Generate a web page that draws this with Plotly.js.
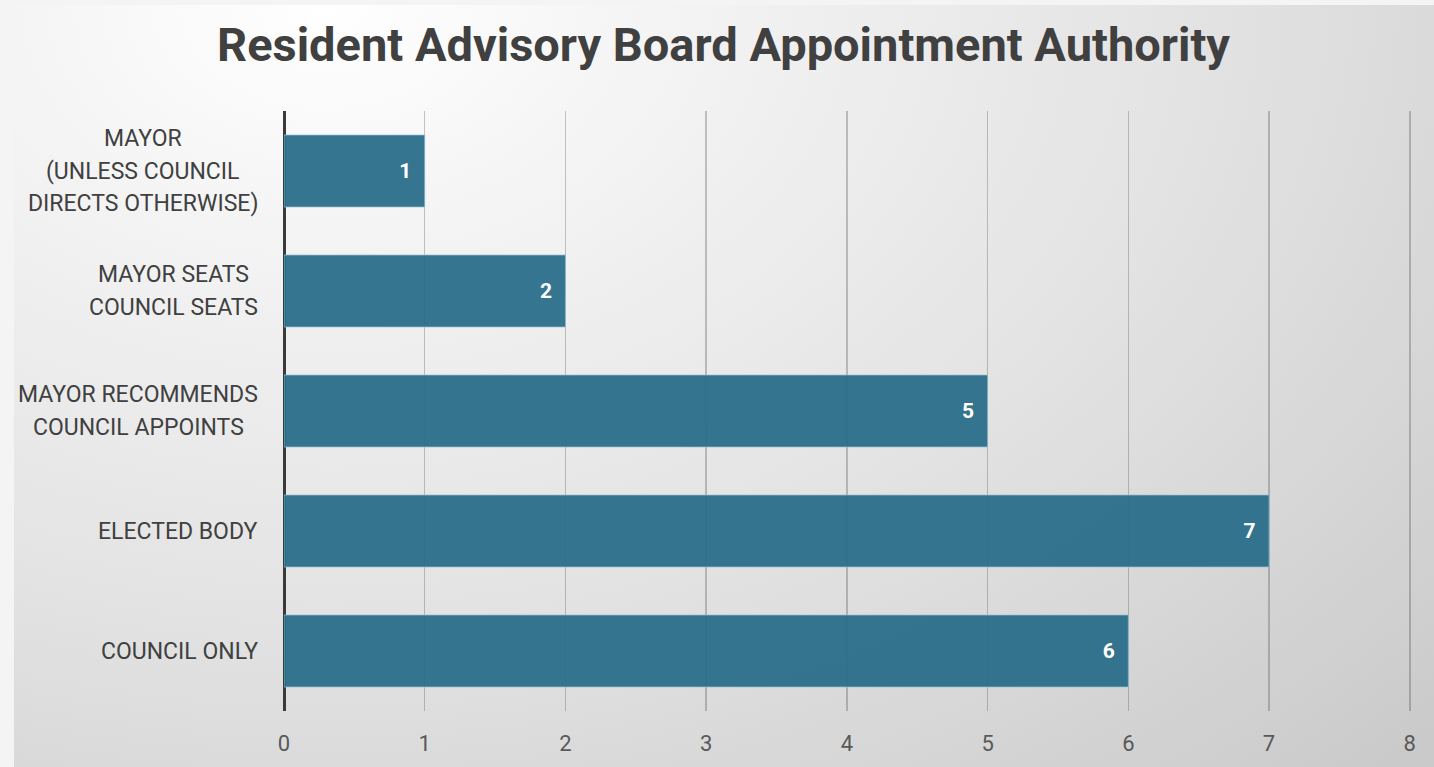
<!DOCTYPE html>
<html>
<head>
<meta charset="utf-8">
<script src="https://cdn.plot.ly/plotly-3.0.1.min.js"></script>
<style>
  html, body { margin: 0; padding: 0; background: #f4f4f4; overflow: hidden; }
  #bg {
    position: absolute; left: 14px; top: 5px; width: 1420px; height: 762px;
    background: radial-gradient(ellipse 115% 150% at 22% 0%, #ffffff 0%, #f3f3f3 22%, #e2e2e2 55%, #c6c6c6 100%);
  }
  #chart { position: absolute; left: 0; top: 0; width: 1434px; height: 767px; }
</style>
</head>
<body>
<div id="bg"></div>
<div id="chart"></div>
<script>
// ---- data ----
const categories = [
  "MAYOR<br>(UNLESS COUNCIL<br>DIRECTS OTHERWISE)",
  "MAYOR SEATS<br>COUNCIL SEATS",
  "MAYOR RECOMMENDS<br>COUNCIL APPOINTS",
  "ELECTED BODY",
  "COUNCIL ONLY"
];
const counts = [1, 2, 5, 7, 6];
const xTicks = [0, 1, 2, 3, 4, 5, 6, 7, 8];
const chartTitle = "Resident Advisory Board Appointment Authority";

// ---- styling ----
const labelFont = 'Roboto, sans-serif';
const labelSize = 23;
const lineStep = 32.5;
const labelGap = 26;

const canvas = document.createElement('canvas');
const ctx = canvas.getContext('2d');
ctx.font = labelSize + 'px Roboto';

const annotations = [];
categories.forEach(function (cat) {
  const lines = cat.split('<br>');
  const maxW = Math.max.apply(null, lines.map(function (l) { return ctx.measureText(l).width; }));
  lines.forEach(function (line, i) {
    const off = (i - (lines.length - 1) / 2) * lineStep;
    annotations.push({
      text: line,
      xref: 'paper', x: 0, xanchor: 'center',
      xshift: -(labelGap + maxW / 2),
      yref: 'y', y: cat, yanchor: 'middle',
      yshift: -off,
      showarrow: false,
      font: { family: labelFont, size: labelSize, color: '#404040' }
    });
  });
});

const trace = {
  type: 'bar',
  orientation: 'h',
  y: categories,
  x: counts,
  marker: {
    color: 'rgba(43,110,138,0.95)',
    line: { color: 'rgba(150,195,212,0.7)', width: 1 }
  },
  text: counts.map(String),
  texttemplate: '%{text}\u00a0\u00a0',
  textposition: 'inside',
  insidetextanchor: 'end',
  textangle: 0,
  textfont: { family: 'Roboto, sans-serif', size: 21, color: '#ffffff', weight: 'bold' },
  cliponaxis: false,
  hoverinfo: 'skip'
};

const layout = {
  width: 1434, height: 767,
  paper_bgcolor: 'rgba(0,0,0,0)',
  plot_bgcolor: 'rgba(0,0,0,0)',
  margin: { l: 284, r: 20, t: 111, b: 56, pad: 0 },
  bargap: 0.4,
  showlegend: false,
  title: {
    text: '<b>' + chartTitle + '</b>',
    xref: 'container', x: 723.5 / 1434, xanchor: 'center',
    yref: 'container', y: 1 - 45 / 767, yanchor: 'middle',
    font: { family: 'Roboto, sans-serif', size: 47, color: '#404040' }
  },
  xaxis: {
    range: [0, 8.03],
    tickvals: xTicks,
    ticktext: xTicks.map(String),
    showgrid: true,
    gridcolor: 'rgba(70,70,70,0.3)',
    gridwidth: 1.5,
    zeroline: true,
    zerolinecolor: '#3a3a3a',
    zerolinewidth: 3,
    showline: false,
    ticks: 'outside',
    ticklen: 13,
    tickcolor: 'rgba(0,0,0,0)',
    tickfont: { family: 'Roboto, sans-serif', size: 22, color: '#595959' },
    fixedrange: true
  },
  yaxis: {
    type: 'category',
    autorange: 'reversed',
    showticklabels: false,
    showgrid: false,
    zeroline: false,
    showline: false,
    ticks: '',
    fixedrange: true
  },
  annotations: annotations
};

Plotly.newPlot('chart', [trace], layout, { displayModeBar: false, staticPlot: true });
</script>
</body>
</html>
